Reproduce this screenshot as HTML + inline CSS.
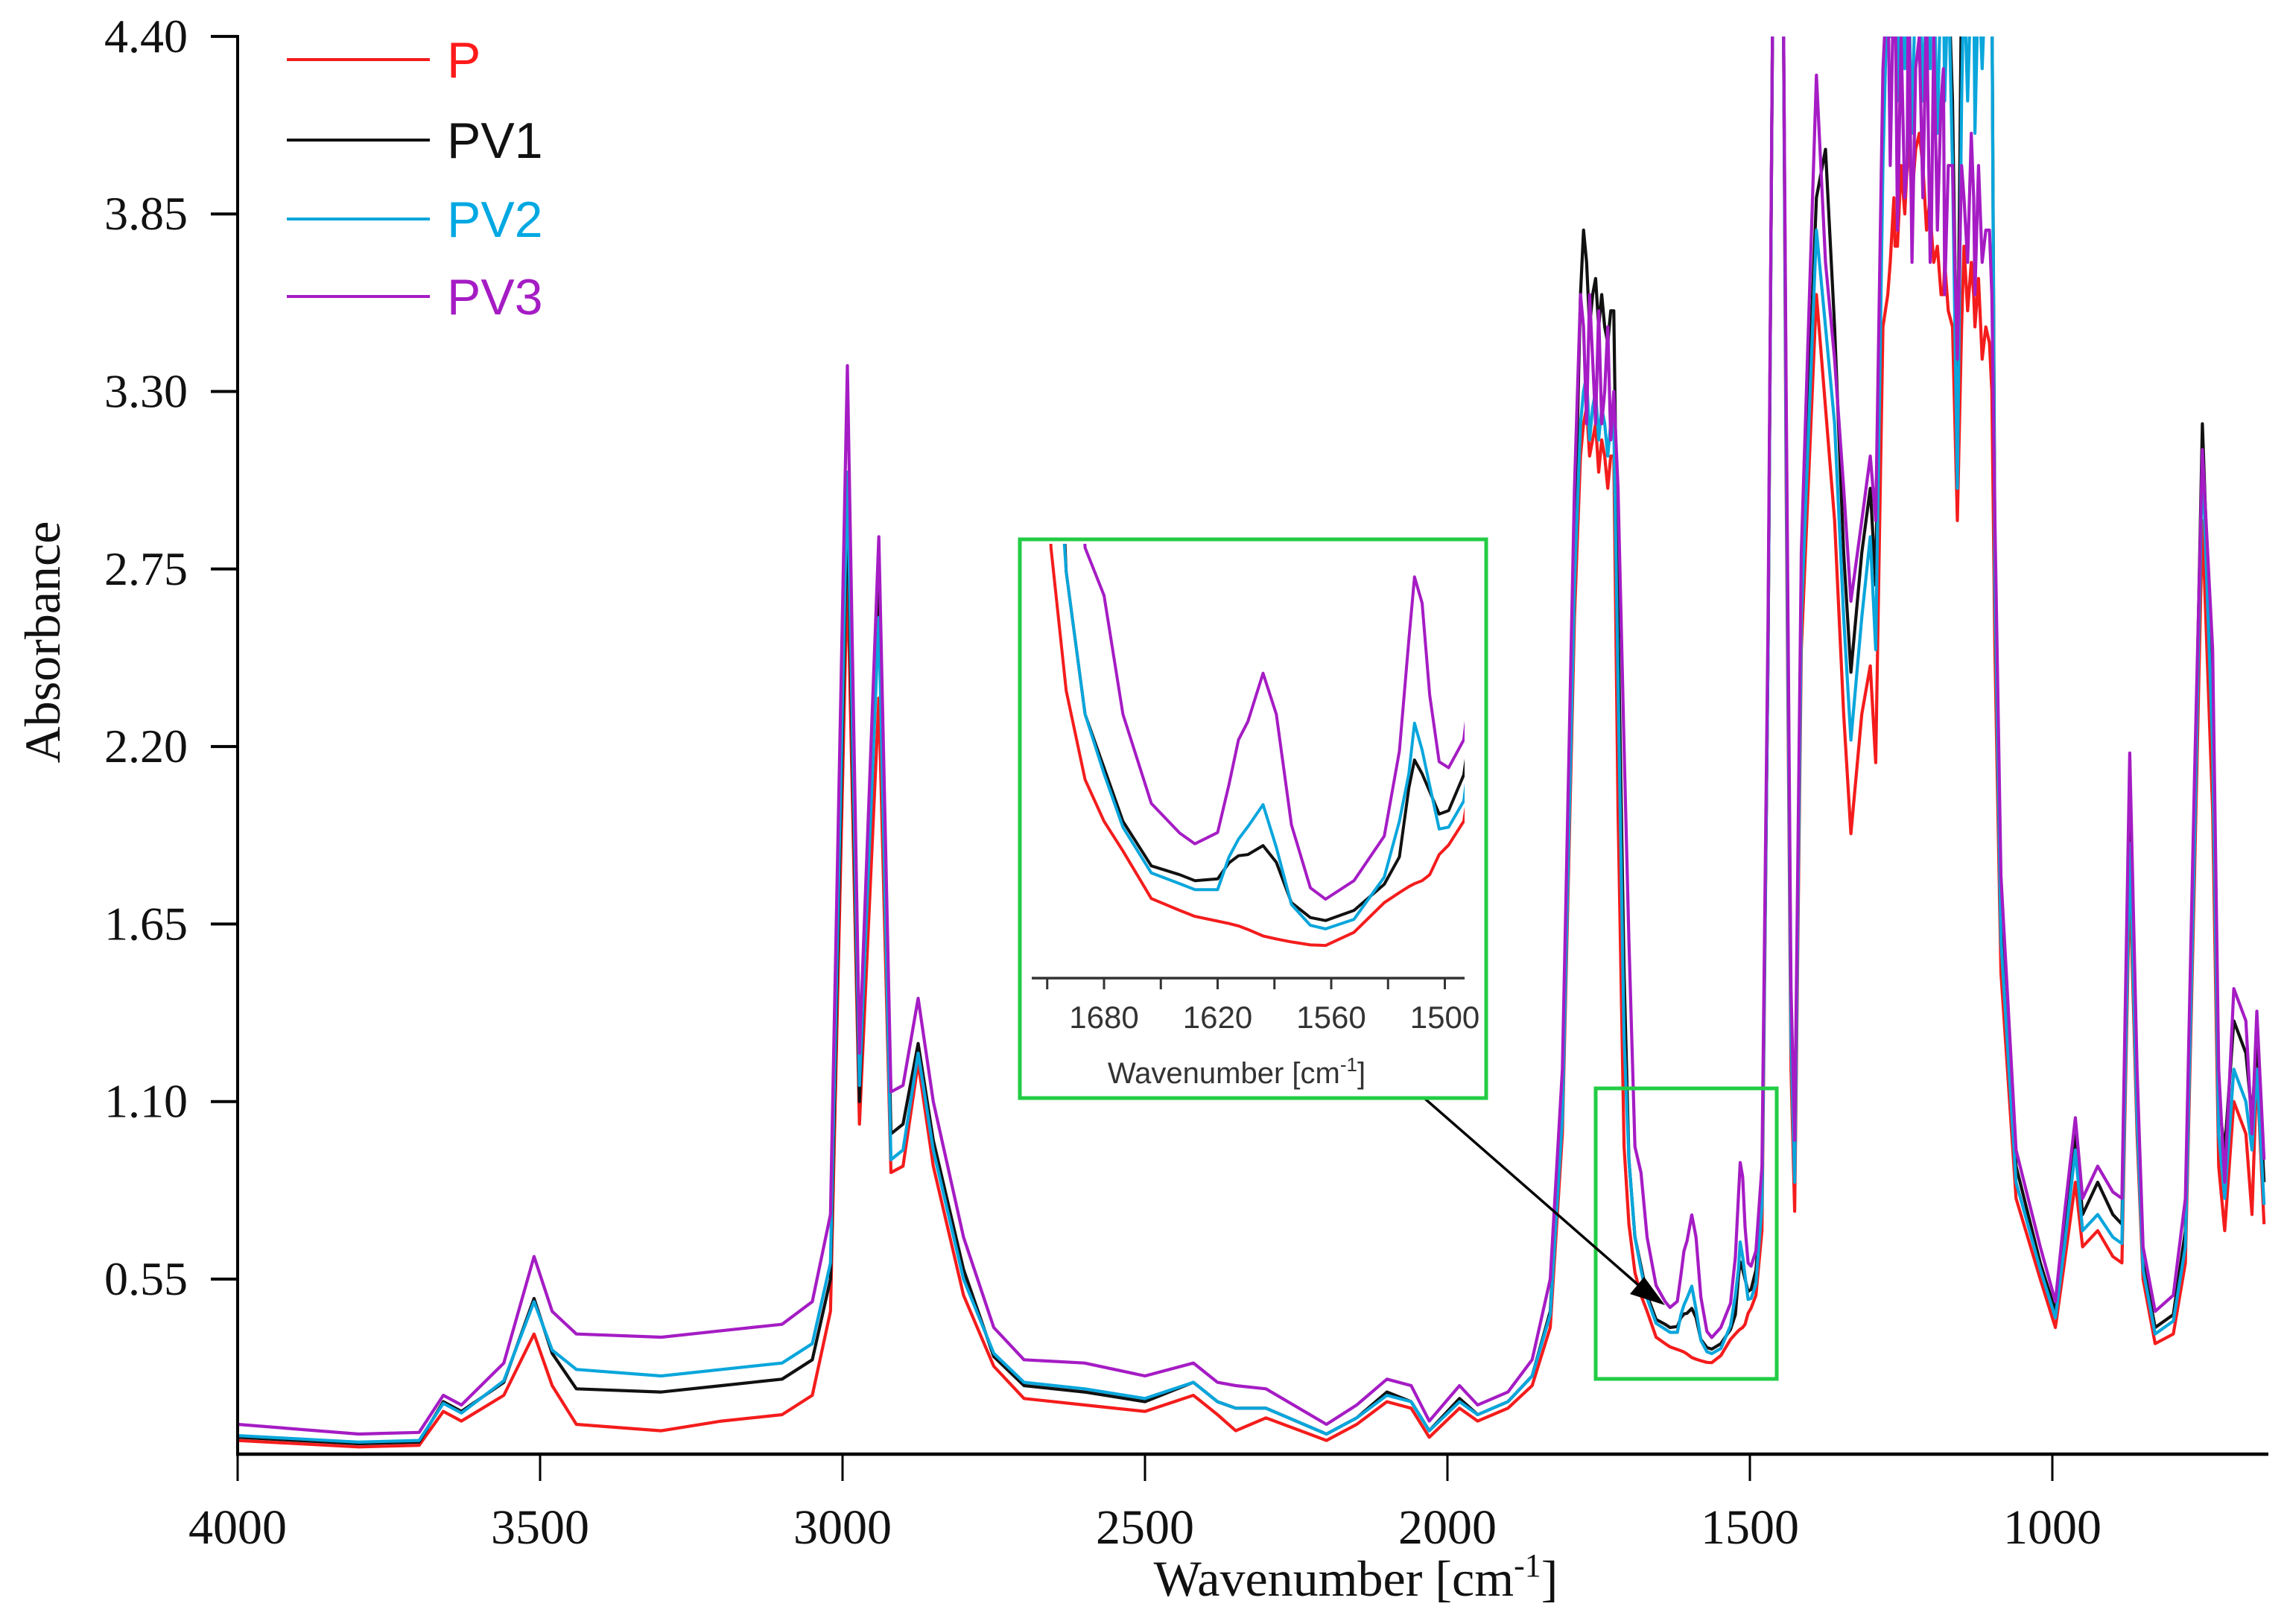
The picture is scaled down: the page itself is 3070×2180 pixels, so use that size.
<!DOCTYPE html>
<html><head><meta charset="utf-8"><style>
html,body{margin:0;padding:0;background:#fff}
svg{display:block}
</style></head><body>
<svg id="chart" width="3070" height="2180" viewBox="0 0 3070 2180" xmlns="http://www.w3.org/2000/svg">
<defs>
<clipPath id="mainClip"><rect x="319" y="49" width="2726" height="1903"/></clipPath>
<clipPath id="insetClip"><rect x="1385" y="730" width="581" height="575"/></clipPath>
</defs>
<rect x="0" y="0" width="3070" height="2180" fill="#fff"/>
<g id="mainSeries" clip-path="url(#mainClip)"></g>
<g id="axes"></g>
<g id="legend"></g>
<rect x="2142" y="1461" width="243" height="390" fill="none" stroke="#22cc44" stroke-width="5"/>
<g>
<line x1="1850" y1="1420" x2="2205" y2="1730" stroke="#000" stroke-width="3.5"/>
<polygon points="2235,1752 2188,1737 2207,1714" fill="#000"/>
</g>
<rect x="1369" y="724" width="626" height="750" fill="#fff" stroke="#22cc44" stroke-width="5"/>
<g id="insetSeries" clip-path="url(#insetClip)"></g>
<g id="insetAxes"></g>
</svg>
<script>
const wavenumbers=[4000,3800,3700,3660,3630,3560,3510,3480,3440,3300,3200,3100,3050,3020,2992,2972,2940,2920,2900,2875,2850,2800,2750,2700,2600,2500,2420,2380,2350,2300,2200,2150,2100,2060,2030,1980,1950,1900,1860,1830,1810,1790,1775,1760,1740,1725,1718,1708,1700,1690,1680,1670,1655,1640,1632,1620,1614,1609,1604,1596,1589,1581,1571,1563,1548,1532,1524,1519,1516,1512,1508,1503,1498,1490,1480,1470,1462,1445,1440,1432,1426,1415,1390,1375,1360,1345,1333,1315,1301,1292,1280,1272,1260,1240,1220,1200,1180,1165,1157,1150,1130,1110,1100,1095,1085,1060,1020,995,980,962,950,925,900,885,872,860,850,830,800,780,765,752,735,725,715,700,680,670,662,650];
const absP=[.05,.03,.035,.14,.11,.19,.38,.22,.10,.08,.11,.13,.19,.45,2.75,1.03,2.35,.88,.90,1.22,.9,.5,.28,.18,.16,.14,.19,.13,.08,.12,.05,.10,.17,.15,.06,.15,.11,.15,.22,.40,1.0,2.6,3.2,3.15,3.1,3.1,2.0,.96,.72,.57,.50,.45,.37,.35,.34,.332,.328,.324,.318,.307,.302,.297,.292,.291,.313,.363,.38,.39,.395,.40,.41,.444,.46,.50,.70,2.5,4.6,4.6,3.0,1.2,.76,2.5,3.6,3.25,2.9,2.3,1.93,2.3,2.45,2.15,3.5,3.6,3.75,4.0,4.1,3.8,3.6,3.5,2.9,3.5,3.6,3.5,3.3,2.5,1.5,.8,.55,.40,.60,.85,.65,.70,.62,.60,1.8,1.0,.55,.35,.38,.6,1.8,2.9,2.0,.9,.7,1.1,1.0,.75,1.2,.72];
const absPV1=[.06,.04,.045,.17,.14,.23,.49,.32,.21,.20,.22,.24,.30,.55,2.95,1.10,2.75,1.0,1.03,1.28,.98,.58,.31,.22,.20,.17,.23,.17,.15,.15,.07,.12,.20,.17,.08,.18,.13,.17,.25,.45,1.1,2.8,3.8,3.6,3.5,3.55,2.6,1.5,.92,.68,.59,.50,.425,.41,.40,.403,.43,.442,.444,.459,.431,.363,.338,.333,.35,.394,.44,.556,.603,.58,.55,.512,.518,.578,.80,2.5,4.6,4.6,3.2,1.35,.88,2.7,3.9,4.05,3.5,2.8,2.43,2.8,3.0,2.7,4.2,4.6,4.6,4.6,4.6,4.6,4.6,4.2,3.2,4.6,4.6,4.6,4.6,2.8,1.7,.9,.6,.45,.7,1.0,.75,.85,.75,.72,2.0,1.1,.6,.40,.44,.7,2.0,3.2,2.3,1.1,.95,1.35,1.25,1.05,1.3,.85];
const absPV2=[.065,.045,.05,.165,.135,.235,.48,.33,.27,.25,.27,.29,.35,.60,3.05,1.15,2.6,.92,.95,1.25,.95,.55,.32,.23,.21,.18,.23,.17,.15,.15,.07,.12,.19,.17,.08,.17,.13,.17,.25,.44,1.05,2.7,3.3,3.25,3.2,3.2,2.4,1.3,.92,.68,.58,.49,.413,.395,.385,.385,.44,.47,.491,.528,.456,.36,.325,.319,.335,.406,.50,.58,.665,.62,.56,.487,.49,.534,.78,2.5,4.6,4.6,3.1,1.3,.85,2.6,3.8,3.5,3.2,2.6,2.22,2.6,2.85,2.5,4.0,4.6,4.6,4.6,4.6,4.6,4.6,4.0,3.0,4.2,4.6,4.6,4.6,2.7,1.6,.85,.58,.43,.65,.95,.7,.75,.68,.66,1.9,1.05,.58,.38,.42,.65,1.9,3.1,2.2,1.0,.8,1.2,1.1,.95,1.2,.78];
const absPV3=[.10,.07,.075,.19,.16,.29,.62,.45,.38,.37,.39,.41,.48,.75,3.38,1.25,2.85,1.13,1.15,1.42,1.1,.68,.40,.30,.29,.25,.29,.23,.22,.21,.10,.16,.24,.22,.11,.22,.16,.20,.30,.55,1.2,3.0,3.5,3.4,3.3,3.3,3.0,2.2,1.6,.96,.88,.68,.53,.48,.462,.481,.562,.637,.668,.749,.68,.494,.388,.369,.40,.475,.618,.805,.911,.867,.712,.60,.59,.637,.90,2.6,4.6,4.6,3.3,1.45,.98,2.8,4.28,3.7,3.4,3.0,2.65,2.9,3.1,2.9,4.3,4.6,4.6,4.0,4.4,3.8,4.3,4.0,3.4,4.0,3.9,3.8,3.6,2.9,1.8,.95,.65,.48,.75,1.05,.8,.90,.82,.80,2.18,1.2,.65,.45,.50,.8,2.1,3.12,2.5,1.2,.85,1.45,1.35,1.0,1.38,.92];
// extra knots for the noisy saturated bands
const bandWn=[1780,1770,1765,1755,1750,1745,1735,1730,1268,1262,1256,1250,1244,1238,1232,1226,1214,1208,1202,1196,1190,1184,1178,1172,1146,1140,1134,1128,1122,1116,1104];
const bandP=[3.1,3.25,3.1,3.2,3.05,3.15,3.0,3.1,3.7,3.9,3.75,4.0,3.85,4.1,3.9,4.05,4.0,3.8,3.9,3.7,3.75,3.6,3.7,3.55,3.75,3.55,3.7,3.5,3.65,3.4,3.45];
const bandPV1=[3.6,3.7,3.5,3.65,3.5,3.6,3.45,3.55,4.6,4.4,4.6,4.5,4.6,4.3,4.6,4.5,4.6,4.4,4.6,4.6,4.5,4.6,4.4,4.6,4.6,4.5,4.6,4.4,4.6,4.5,4.6];
const bandPV2=[3.2,3.35,3.15,3.3,3.15,3.25,3.1,3.2,4.4,4.6,4.2,4.6,4.3,4.6,4.1,4.6,4.2,4.6,4.3,4.6,4.1,4.6,4.2,4.6,4.6,4.2,4.6,4.1,4.6,4.3,4.6];
const bandPV3=[3.6,3.2,3.6,3.2,3.55,3.2,3.5,3.15,4.0,4.6,3.8,4.4,3.9,4.6,3.7,4.3,3.9,4.5,3.7,4.4,3.8,4.2,3.6,4.0,3.9,3.7,4.1,3.6,4.0,3.7,3.8];
const seriesNames=["P","PV1","PV2","PV3"];
const xTicks=[4000,3500,3000,2500,2000,1500,1000];
const yTicks=[4.40,3.85,3.30,2.75,2.20,1.65,1.10,0.55];
const insetTicks=[1710,1680,1650,1620,1590,1560,1530,1500];
const insetLabels=[1680,1620,1560,1500];

const NS="http://www.w3.org/2000/svg";
const colors=["#f41c1c","#111111","#0aa6dc","#a51cc4"];
const baseSeries=[absP,absPV1,absPV2,absPV3];
const bandSeries=[bandP,bandPV1,bandPV2,bandPV3];
const xs=wn=>319+(4000-wn)*(2755-319)/3000;
const ys=v=>1717-(v-0.55)*(238.3/0.55);
const ixs=wn=>1482+(1680-wn)*2.5417;
const iys=v=>1270-(v-0.29)*798;
function mk(tag,attrs,parent){const e=document.createElementNS(NS,tag);for(const k in attrs)e.setAttribute(k,attrs[k]);parent.appendChild(e);return e;}
function merged(i){
  const pts=wavenumbers.map((w,j)=>[w,baseSeries[i][j]]);
  bandWn.forEach((w,j)=>pts.push([w,bandSeries[i][j]]));
  pts.sort((a,b)=>b[0]-a[0]);
  return pts;
}
const mainG=document.getElementById('mainSeries');
const insetG=document.getElementById('insetSeries');
[0,1,2,3].forEach(i=>{
  const pts=merged(i);
  const d=pts.map((p,j)=>(j?'L':'M')+xs(p[0]).toFixed(1)+' '+ys(p[1]).toFixed(1)).join(' ');
  const p=mk('path',{d:d,fill:'none',stroke:colors[i],'stroke-width':4.2,'stroke-linejoin':'round'},mainG);
  
  
  const ipts=pts.filter(q=>q[0]<=1730&&q[0]>=1475).map(q=>ixs(q[0]).toFixed(1)+' '+iys(q[1]).toFixed(1));
  const q=mk('path',{d:'M'+ipts.join(' L'),fill:'none',stroke:colors[i],'stroke-width':4,'stroke-linejoin':'round'},insetG);
  
  
});
const ax=document.getElementById('axes');
mk('line',{x1:319,y1:47,x2:319,y2:1954,stroke:'#000','stroke-width':4},ax);
mk('line',{x1:317,y1:1952,x2:3045,y2:1952,stroke:'#000','stroke-width':4.5},ax);
xTicks.forEach(t=>{
  const x=xs(t);
  mk('line',{x1:x,y1:1952,x2:x,y2:1988,stroke:'#000','stroke-width':3},ax);
  const tx=mk('text',{x:x,y:2072,'text-anchor':'middle','font-family':'Liberation Serif, serif','font-size':66,fill:'#111'},ax);
  tx.textContent=t;
  
  
});
yTicks.forEach(t=>{
  const y=ys(t);
  mk('line',{x1:283,y1:y,x2:319,y2:y,stroke:'#000','stroke-width':4},ax);
  const tx=mk('text',{x:252,y:y+21,'text-anchor':'end','font-family':'Liberation Serif, serif','font-size':64,fill:'#111'},ax);
  tx.textContent=t.toFixed(2);
  
  
});
const yt=mk('text',{x:0,y:0,transform:'translate(80,862) rotate(-90)','text-anchor':'middle','font-family':'Liberation Serif, serif','font-size':68,fill:'#111'},ax);
yt.textContent='Absorbance';


const xt=mk('text',{x:1820,y:2142,'text-anchor':'middle','font-family':'Liberation Serif, serif','font-size':68,fill:'#111'},ax);
xt.innerHTML='Wavenumber [cm<tspan dy="-26" font-size="44">-1</tspan><tspan dy="26">]</tspan>';


const lg=document.getElementById('legend');
const legY=[80,188,294,398];
seriesNames.forEach((n,i)=>{
  const g=mk('g',{},lg);
  
  
  mk('line',{x1:385,y1:legY[i],x2:577,y2:legY[i],stroke:colors[i],'stroke-width':4},g);
  const t=mk('text',{x:600,y:legY[i]+24,'font-family':'Liberation Sans, sans-serif','font-size':68,fill:i==0?'#ff1a1a':(i==2?'#00a8e2':colors[i])},g);
  t.textContent=n;
});
const ia=document.getElementById('insetAxes');
mk('line',{x1:1385,y1:1313,x2:1966,y2:1313,stroke:'#333','stroke-width':3.5},ia);
insetTicks.forEach(t=>{
  mk('line',{x1:ixs(t),y1:1313,x2:ixs(t),y2:1328,stroke:'#333','stroke-width':3},ia);
});
insetLabels.forEach(t=>{
  const tx=mk('text',{x:ixs(t),y:1380,'text-anchor':'middle','font-family':'Liberation Sans, sans-serif','font-size':42,fill:'#333'},ia);
  tx.textContent=t;
  
  
});
const it=mk('text',{x:1660,y:1454,'text-anchor':'middle','font-family':'Liberation Sans, sans-serif','font-size':40,fill:'#333'},ia);
it.innerHTML='Wavenumber [cm<tspan dy="-16" font-size="26">-1</tspan><tspan dy="16">]</tspan>';


</script>
</body></html>
